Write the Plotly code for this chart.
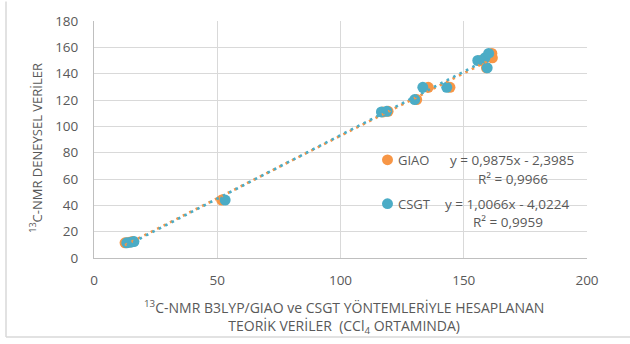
import numpy as np
import plotly.graph_objects as go

# Experimental 13C-NMR shifts (y) and theoretical values (x)
deneysel = [11.5, 12.0, 12.5, 44.0, 110.9, 111.4, 120.3, 129.6, 129.6, 144.4, 150.0, 152.0, 155.4]
giao = [12.6, 14.3, 15.6, 51.8, 117.3, 119.3, 130.9, 135.6, 144.4, 159.2, 156.8, 161.6, 161.4]
csgt = [13.3, 15.0, 16.2, 53.2, 116.6, 118.8, 130.1, 133.4, 143.1, 159.5, 155.7, 158.6, 160.1]

series_names = ["GIAO", "CSGT"]
equations = ["y = 0,9875x - 2,3985", "y = 1,0066x - 4,0224"]
r2_texts = ["R² = 0,9966", "R² = 0,9959"]
colors = ["#F79646", "#4BACC6"]

x_ticks = [0, 50, 100, 150, 200]
y_ticks = [0, 20, 40, 60, 80, 100, 120, 140, 160, 180]

x_title = "<sup>13</sup>C-NMR B3LYP/GIAO ve CSGT YÖNTEMLERİYLE HESAPLANAN<br>TEORİK VERİLER  (CCl<sub>4</sub> ORTAMINDA)"
y_title = "<sup>13</sup>C-NMR DENEYSEL VERİLER"

W, H = 630, 344
L, R, T, B = 94, 43, 15, 86
pw, ph = W - L - R, H - T - B

def px2paper(px, py):
    return (px - L) / pw, (H - B - py) / ph

text_color = "#595959"
font_family = "Open Sans, Noto Sans, sans-serif"

fig = go.Figure()

for name, xs, col in zip(series_names, [giao, csgt], colors):
    fig.add_trace(go.Scatter(
        x=xs, y=deneysel, mode="markers", name=name,
        marker=dict(color=col, size=11, line=dict(width=0)),
        showlegend=False,
    ))

for name, xs, col in zip(series_names, [giao, csgt], colors):
    a, b = np.polyfit(xs, deneysel, 1)
    xr = np.array([min(xs), max(xs)])
    fig.add_trace(go.Scatter(
        x=xr, y=a * xr + b, mode="lines", name=name + " trend",
        line=dict(color=col, width=2.6, dash="2.6px,4.6px"),
        showlegend=False, hoverinfo="skip",
    ))

shapes = []
annotations = []
legend_rows = [(157.3, 448.3, 476.0, 176.5), (202.3, 442.7, 471.0, 221.0)]
for (ly, eqx, r2x, r2y), name, eq, r2, col in zip(legend_rows, series_names, equations, r2_texts, colors):
    x0, y0 = px2paper(382, ly + 5.5)
    x1, y1 = px2paper(393, ly - 5.5)
    shapes.append(dict(type="circle", xref="paper", yref="paper", x0=x0, y0=y0, x1=x1, y1=y1,
                       fillcolor=col, line=dict(width=0)))
    tx, ty = px2paper(396, ly)
    annotations.append(dict(text=name, x=tx, y=ty, xref="paper", yref="paper", showarrow=False,
                            xanchor="left", yanchor="middle", font=dict(size=13, color=text_color, family=font_family)))
    ex, ey = px2paper(eqx, ly)
    annotations.append(dict(text=eq, x=ex, y=ey, xref="paper", yref="paper", showarrow=False,
                            xanchor="left", yanchor="middle", font=dict(size=13.5, color=text_color, family=font_family)))
    rx, ry = px2paper(r2x, r2y)
    annotations.append(dict(text=r2, x=rx, y=ry, xref="paper", yref="paper", showarrow=False,
                            xanchor="left", yanchor="middle", font=dict(size=13.5, color=text_color, family=font_family)))

# axis titles as annotations for exact placement
xt, yt = px2paper(344, 318)
annotations.append(dict(text=x_title, x=xt, y=yt, xref="paper", yref="paper", showarrow=False,
                        xanchor="center", yanchor="middle", align="center",
                        font=dict(size=14, color=text_color, family=font_family)))
xt, yt = px2paper(36, 145)
annotations.append(dict(text=y_title, x=xt, y=yt, xref="paper", yref="paper", showarrow=False,
                        xanchor="center", yanchor="middle", textangle=-90,
                        font=dict(size=13, color=text_color, family=font_family)))

# outer chart border (left and bottom visible)
shapes.append(dict(type="line", xref="paper", yref="paper",
                   x0=px2paper(6, 0)[0], x1=px2paper(6, 0)[0], y0=px2paper(0, -5)[1], y1=px2paper(0, 339)[1],
                   line=dict(color="#D9D9D9", width=1.5)))
shapes.append(dict(type="line", xref="paper", yref="paper",
                   x0=px2paper(6, 0)[0], x1=px2paper(640, 0)[0], y0=px2paper(0, 339)[1], y1=px2paper(0, 339)[1],
                   line=dict(color="#D9D9D9", width=1.5)))

fig.update_layout(
    width=W, height=H,
    margin=dict(l=L, r=R, t=T, b=B),
    paper_bgcolor="white", plot_bgcolor="white",
    font=dict(family=font_family, size=13, color=text_color),
    shapes=shapes, annotations=annotations,
    xaxis=dict(
        range=[0, 200], tickvals=x_ticks, ticktext=[str(v) for v in x_ticks],
        showgrid=True, gridcolor="#D9D9D9", gridwidth=1,
        showline=True, linecolor="#BFBFBF", linewidth=1,
        zeroline=False, ticks="", ticklen=0, ticklabelstandoff=10,
        tickfont=dict(size=13.5, color=text_color),
    ),
    yaxis=dict(
        range=[0, 180], tickvals=y_ticks, ticktext=[str(v) for v in y_ticks],
        showgrid=True, gridcolor="#D9D9D9", gridwidth=1,
        showline=True, linecolor="#BFBFBF", linewidth=1,
        zeroline=False, ticks="", ticklen=0, ticklabelstandoff=12,
        tickfont=dict(size=13.5, color=text_color),
    ),
)

fig.write_html("out.html")
